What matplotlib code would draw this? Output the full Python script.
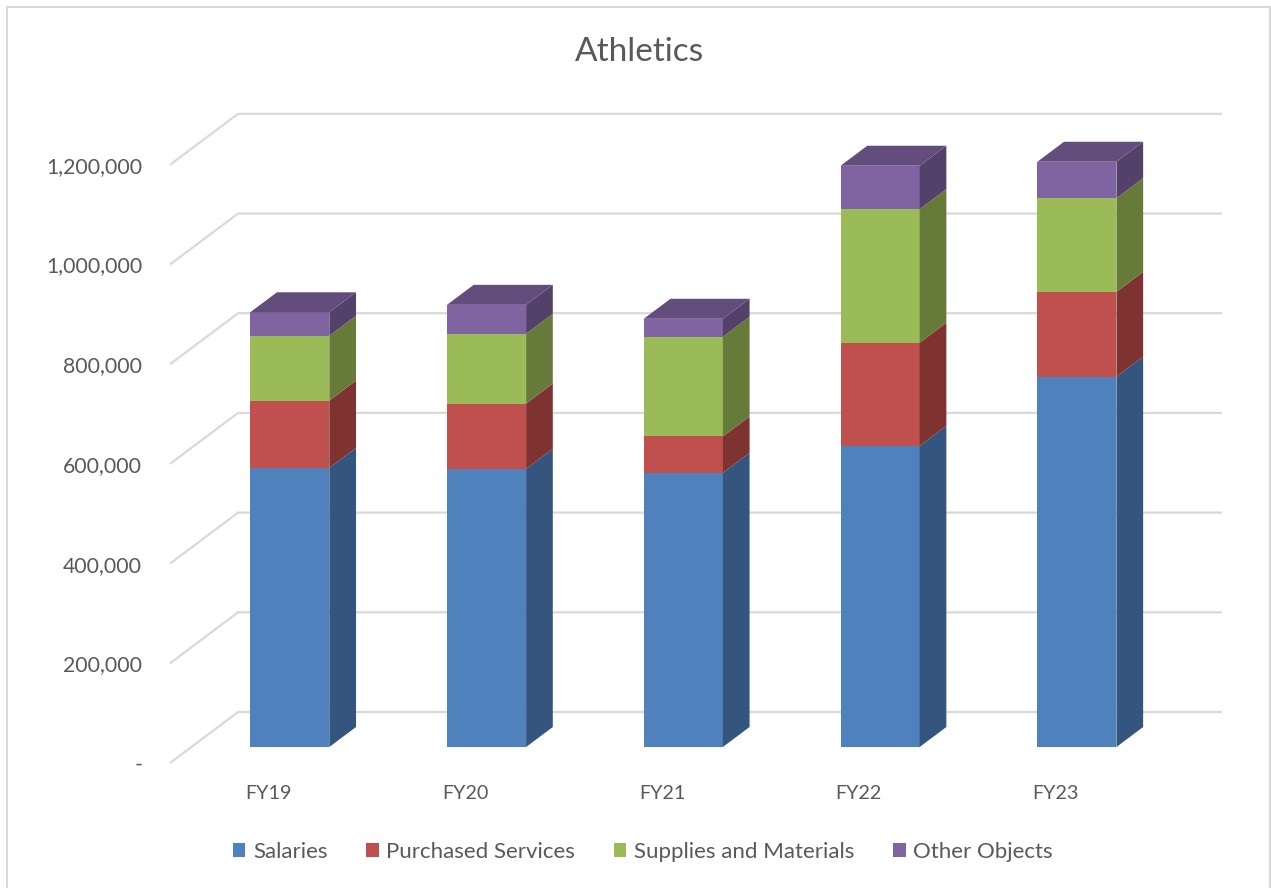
import matplotlib
matplotlib.use("Agg")
import matplotlib.pyplot as plt
from matplotlib.patches import Polygon, Patch
from matplotlib.lines import Line2D
import numpy as np

# ---- data ----
categories = ["FY19", "FY20", "FY21", "FY22", "FY23"]
series_names = ["Salaries", "Purchased Services", "Supplies and Materials", "Other Objects"]
salaries = [560000, 558000, 550000, 604000, 743000]
purchased = [135000, 131000, 73000, 207000, 170000]
supplies = [130000, 140000, 200000, 268000, 188000]
other = [47000, 58000, 36000, 87000, 73000]
y_ticks = [0, 200000, 400000, 600000, 800000, 1000000, 1200000]
y_tick_labels = ["-", "200,000", "400,000", "600,000", "800,000", "1,000,000", "1,200,000"]

front_colors = ["#4F81BD", "#C0504D", "#9BBB59", "#8064A2"]
side_colors = ["#33557E", "#7E3331", "#667B3A", "#534169"]
top_colors = ["#3D6391", "#943D3B", "#778F45", "#624D7D"]

W, H = 1271, 888
fig = plt.figure(figsize=(W / 100, H / 100), dpi=100)
fig.patch.set_facecolor("white")

# font
plt.rcParams["font.family"] = ["Lato", "DejaVu Sans"]
txt_color = "#595959"

# geometry (pixel-based projection)
VPP = 200000 / 99.7           # value units per pixel
left_px, right_px, bottom_px, top_px = 170, 1222, 763, 100
DX = 68 / 196.5               # full-depth x shift in category units
DY = 51 * VPP                 # full-depth y shift in value units
d_front, d_back = 16 / 51, 36 / 51
half_w = 79 / 196.5 / 2

ax = fig.add_axes([left_px / W, 1 - bottom_px / H, (right_px - left_px) / W, (bottom_px - top_px) / H])
ax.set_xlim(-0.5, 4.5 + DX)
ax.set_ylim(0, (bottom_px - top_px) * VPP)
for s in ax.spines.values():
    s.set_visible(False)
ax.set_facecolor("none")

# gridlines: left wall diagonal + back wall horizontal
grid_c = "#D9D9D9"
for v in y_ticks:
    ax.plot([-0.5, -0.5 + DX, 4.5 + DX], [v, v + DY, v + DY], color=grid_c, lw=1.6,
            zorder=1, clip_on=False, solid_capstyle="butt")

# bars
x = np.arange(len(categories))
data = [salaries, purchased, supplies, other]
bottoms = np.zeros(len(categories))
xf = x + d_front * DX
ddx = (d_back - d_front) * DX
ddy = (d_back - d_front) * DY
for si, vals in enumerate(data):
    vals = np.array(vals, dtype=float)
    ax.bar(xf, vals, bottom=bottoms + d_front * DY, width=2 * half_w,
           color=front_colors[si], zorder=3, linewidth=0)
    for i in range(len(categories)):
        xr = xf[i] + half_w
        b = bottoms[i] + d_front * DY
        t = b + vals[i]
        side = Polygon([(xr, b), (xr + ddx, b + ddy), (xr + ddx, t + ddy), (xr, t)],
                       closed=True, facecolor=side_colors[si], edgecolor="none", zorder=3)
        ax.add_patch(side)
        if si == len(data) - 1:
            xl = xf[i] - half_w
            top = Polygon([(xl, t), (xr, t), (xr + ddx, t + ddy), (xl + ddx, t + ddy)],
                          closed=True, facecolor=top_colors[si], edgecolor="none", zorder=3)
            ax.add_patch(top)
    bottoms = bottoms + vals

# axes ticks
ax.set_yticks(y_ticks)
ax.set_yticklabels(y_tick_labels)
ax.set_xticks(x)
ax.set_xticklabels(categories)
ax.tick_params(axis="y", length=0, pad=20, labelsize=15.3, labelcolor=txt_color)
ax.tick_params(axis="x", length=0, pad=16, labelsize=14.2, labelcolor=txt_color)

# title
fig.text(639 / W, 1 - 52 / H, "Athletics", ha="center", va="center", fontsize=24, color=txt_color)

# legend
handles = [Patch(facecolor=c, edgecolor="none") for c in front_colors]
leg = fig.legend(handles, series_names, loc="center", bbox_to_anchor=(643 / W, 1 - 852 / H),
                 ncol=4, frameon=False, fontsize=16, handlelength=0.55, handleheight=0.55,
                 handletextpad=0.35, columnspacing=1.75, labelcolor=txt_color)

# outer border
bc = "#D9D9D9"
fig.add_artist(Line2D([7 / W, 7 / W], [0, 1 - 7 / H], color=bc, lw=1.5, transform=fig.transFigure))
fig.add_artist(Line2D([7 / W, 1270 / W], [1 - 7 / H, 1 - 7 / H], color=bc, lw=1.5, transform=fig.transFigure))
fig.add_artist(Line2D([1269.5 / W, 1269.5 / W], [0, 1 - 7 / H], color=bc, lw=1.5, transform=fig.transFigure))

fig.savefig("out.png", dpi=100)
